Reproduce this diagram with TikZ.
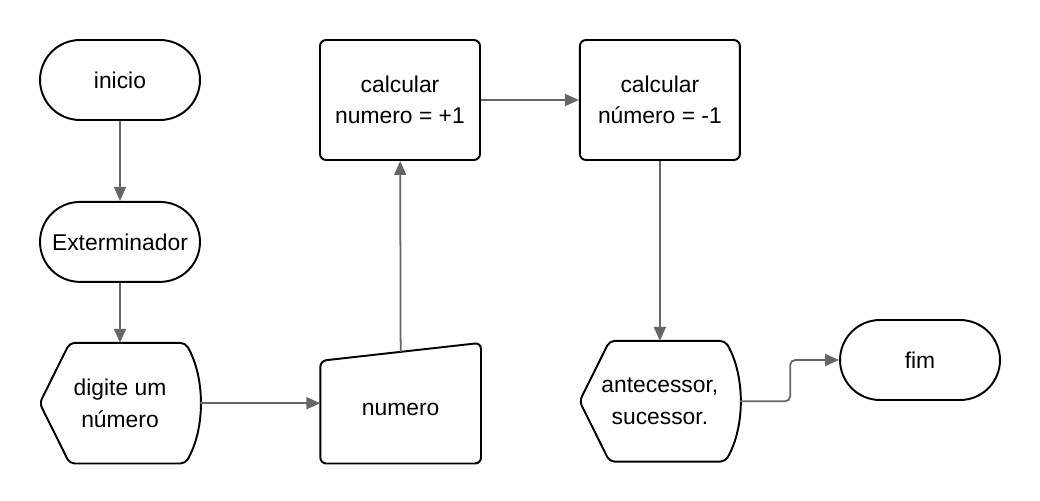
\documentclass[tikz,border=0pt]{standalone}
\usepackage{fontspec}
\setmainfont{Liberation Sans}
\usepackage{xcolor}
\usetikzlibrary{positioning, arrows.meta}
\definecolor{arrgray}{HTML}{666666}

\begin{document}
\begin{tikzpicture}[
    x=0.02cm, y=-0.02cm,
    font=\fontsize{13}{18}\selectfont,
    term/.style={draw, line width=1.1pt, rounded corners=0.8cm, align=center,
                 minimum width=3.2cm, minimum height=1.6cm},
    proc/.style={draw, line width=1.1pt, rounded corners=0.12cm, align=center,
                 minimum width=3.2cm, minimum height=2.4cm},
    shp/.style={align=center, inner sep=0pt,
                minimum width=3.2cm, minimum height=2.4cm},
    outline/.style={draw, line width=1.1pt, rounded corners=0.1cm},
    arr/.style={-{Triangle[length=0.28cm, width=0.24cm]}, draw=arrgray,
                line width=1pt}
  ]
  \useasboundingbox (0,0) rectangle (1040,500);

  \node[term] (inicio) at (120,80) {inicio};
  \node[term, below=1.6cm of inicio] (exterm) {Exterminador};
  \node[shp, below=1.2cm of exterm]  (digite) {digite um\\número};
  \node[shp, right=2.4cm of digite]  (numero) {\\[-4pt]numero};
  \node[proc] (soma) at (400,100) {calcular\\numero = +1};
  \node[proc, right=1.96cm of soma]  (subtrai) {calcular\\número = -1};
  \node[shp, below=3.6cm of subtrai] (saida) {antecessor,\\sucessor.};
  \node[term] (fim) at (920,360) {fim};

  % display shapes
  \draw[outline] (digite.west) -- ([xshift=0.6cm]digite.north west)
    -- ([xshift=-0.3cm]digite.north east)
    .. controls +(0.4cm,-0.7cm) and +(0.4cm,0.7cm) .. ([xshift=-0.3cm]digite.south east)
    -- ([xshift=0.6cm]digite.south west) -- cycle;
  \draw[outline] (saida.west) -- ([xshift=0.6cm]saida.north west)
    -- ([xshift=-0.3cm]saida.north east)
    .. controls +(0.4cm,-0.7cm) and +(0.4cm,0.7cm) .. ([xshift=-0.3cm]saida.south east)
    -- ([xshift=0.6cm]saida.south west) -- cycle;
  % manual input
  \draw[outline, rounded corners=0.12cm] ([yshift=-0.36cm]numero.north west)
    -- (numero.north east) -- (numero.south east)
    -- (numero.south west) -- cycle;
  \coordinate (numtop) at ([yshift=-0.18cm]numero.north);

  \draw[arr] (inicio) -- (exterm);
  \draw[arr] (exterm) -- (digite);
  \draw[arr] (digite) -- (numero);
  \draw[arr] (numtop) -- (soma);
  \draw[arr] (soma)   -- (subtrai);
  \draw[arr] (subtrai) -- (saida);
  \draw[arr, rounded corners=0.1cm] (saida.east) -- ++(1cm,0) |- (fim.west);
\end{tikzpicture}
\end{document}
